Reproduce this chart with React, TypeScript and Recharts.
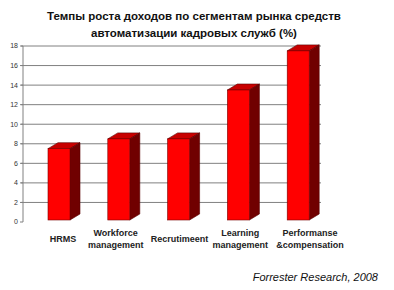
import { BarChart, Bar, XAxis, YAxis, CartesianGrid } from 'recharts'

const categories = ['HRMS', 'Workforce\nmanagement', 'Recrutimeent', 'Learning\nmanagement', 'Performanse\n&compensation']
const growth = [7.5, 8.5, 8.5, 13.5, 17.5]
const yTicks = [0, 2, 4, 6, 8, 10, 12, 14, 16, 18]
const titleLines = ['Темпы роста доходов по сегментам рынка средств', 'автоматизации кадровых служб (%)']
const source = 'Forrester Research, 2008'

const data = categories.map((name, i) => ({ name, value: growth[i] }))

const FONT = '"Liberation Sans", Arial, sans-serif'
const DEPTH_X = 10
const DEPTH_Y = 6
// label nudges so the wrapped labels sit like the original (avoid overlap)
const LABEL_DX = [-1, -8, -4, -3, 7]

function Bar3D(props: any) {
  const { x, y, width, height } = props
  const front = width - DEPTH_X
  const bottom = y + height - 2
  return (
    <g>
      <polygon
        points={`${x},${y} ${x + DEPTH_X},${y - DEPTH_Y} ${x + width},${y - DEPTH_Y} ${x + front},${y}`}
        fill="#c80000"
        stroke="#5a0000"
        strokeWidth={0.6}
      />
      <polygon
        points={`${x + front},${y} ${x + width},${y - DEPTH_Y} ${x + width},${bottom - DEPTH_Y} ${x + front},${bottom}`}
        fill="#700000"
        stroke="#5a0000"
        strokeWidth={0.6}
      />
      <rect x={x} y={y} width={front} height={bottom - y} fill="#ff0000" stroke="#7a0000" strokeWidth={0.6} />
    </g>
  )
}

function CategoryTick(props: any) {
  const { x, payload, index } = props
  const lines = String(payload.value).split('\n')
  const first = 242 - (lines.length - 1) * 6
  const cx = x + (LABEL_DX[index] ?? 0)
  return (
    <text x={cx} y={first} textAnchor="middle" fontFamily={FONT} fontSize={9} fontWeight="bold" fill="#222">
      {lines.map((l, i) => (
        <tspan key={i} x={cx} dy={i === 0 ? 0 : 12}>
          {l}
        </tspan>
      ))}
    </text>
  )
}

function GridLine(props: any) {
  const { x1, x2, y1 } = props
  if (y1 > 220) return <g />
  return <line x1={x1 - 2} x2={x2 - 12} y1={y1} y2={y1} stroke="#808080" strokeWidth={1} />
}

export default function App() {
  return (
    <div style={{ position: 'absolute', left: 0, top: 0, width: 394, height: 290, background: '#fff' }}>
      <div
        style={{
          position: 'absolute',
          left: 0,
          top: 8,
          width: 388,
          textAlign: 'center',
          fontFamily: FONT,
          fontWeight: 'bold',
          fontSize: 11.5,
          lineHeight: '17px',
          color: '#111',
        }}
      >
        {titleLines.map((t) => (
          <div key={t}>{t}</div>
        ))}
      </div>
      <BarChart width={394} height={290} data={data} margin={{ top: 46, right: 61, bottom: 38, left: 0 }}>
        <CartesianGrid vertical={false} horizontal={(p: any) => <GridLine key={p.key} {...p} />} />
        <XAxis
          dataKey="name"
          height={30}
          axisLine={false}
          tickLine={false}
          interval={0}
          padding={{ left: 11, right: 0 }}
          tick={<CategoryTick />}
        />
        <YAxis
          width={23}
          domain={[0, 18]}
          ticks={yTicks}
          interval={0}
          tickSize={3}
          tickMargin={2}
          axisLine={{ stroke: '#808080' }}
          tickLine={{ stroke: '#808080' }}
          tick={{ fontSize: 7, fill: '#333', fontFamily: FONT }}
        />
        <Bar dataKey="value" barSize={32} shape={<Bar3D />} isAnimationActive={false} />
      </BarChart>
      <div
        style={{
          position: 'absolute',
          right: 16,
          top: 271,
          fontFamily: FONT,
          fontStyle: 'italic',
          fontSize: 11,
          color: '#111',
        }}
      >
        {source}
      </div>
    </div>
  )
}
